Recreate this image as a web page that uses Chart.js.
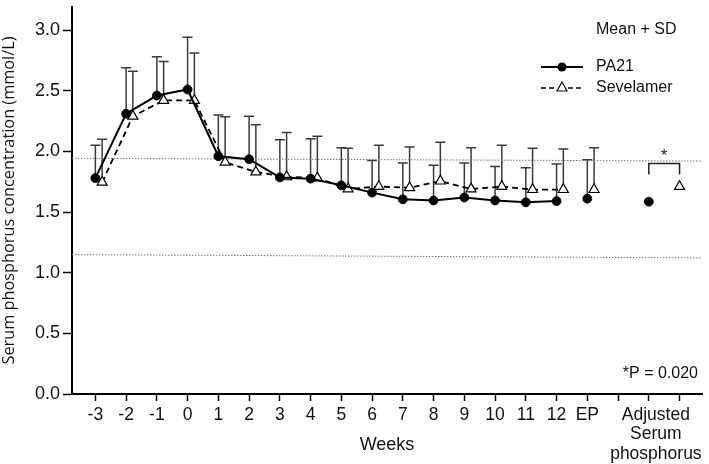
<!DOCTYPE html>
<html>
<head>
<meta charset="utf-8">
<script src="https://cdn.jsdelivr.net/npm/chart.js@4.4.1/dist/chart.umd.min.js"></script>
<style>
  html, body { margin: 0; padding: 0; background: #fff; }
  canvas { display: block; }
</style>
</head>
<body>
<canvas id="phosChart" width="709" height="464"></canvas>
<script>
// weeks -3..12 and EP
const weekLabels = ['-3', '-2', '-1', '0', '1', '2', '3', '4', '5', '6', '7', '8', '9', '10', '11', '12', 'EP'];
const pa21Mean = [1.78, 2.31, 2.46, 2.51, 1.96, 1.935, 1.785, 1.775, 1.72, 1.66, 1.605, 1.595, 1.62, 1.595, 1.58, 1.59, 1.61];
const pa21Sd   = [0.27, 0.38, 0.32, 0.43, 0.34, 0.355, 0.31, 0.33, 0.31, 0.265, 0.30, 0.29, 0.285, 0.28, 0.285, 0.305, 0.32];
const sevMean  = [1.745, 2.29, 2.42, 2.42, 1.91, 1.83, 1.79, 1.78, 1.69, 1.71, 1.70, 1.755, 1.69, 1.71, 1.685, 1.685, 1.685];
const sevSd    = [0.355, 0.37, 0.32, 0.39, 0.375, 0.39, 0.365, 0.345, 0.335, 0.34, 0.335, 0.32, 0.34, 0.34, 0.34, 0.335, 0.345];
const adjustedMean = [1.585, 1.71];   // PA21, Sevelamer
const refUpper = [1.943, 1.92];       // dotted line, left and right end
const refLower = [1.149, 1.122];
const yTicks = [0, 0.5, 1.0, 1.5, 2.0, 2.5, 3.0];
const adjustedLabel = ['Adjusted', 'Serum', 'phosphorus'];

const xMin = -0.76, xMax = 19.73;
const sevShift = 0.22;
const adjX = [18, 19];
const adjLabelPos = 18.23;
const FONT = "'Liberation Sans', Arial, sans-serif";

function buildSeries(means, shift, adjIdx) {
  const pts = [];
  for (let i = 0; i < 16; i++) pts.push({ x: i + shift, y: means[i] });
  pts.push({ x: 15.5 + shift, y: null });
  pts.push({ x: 16 + shift, y: means[16] });
  pts.push({ x: 17, y: null });
  pts.push({ x: adjX[adjIdx], y: adjustedMean[adjIdx] });
  return pts;
}

const errorBars = {
  id: 'errorBars',
  beforeDatasetsDraw(chart) {
    const { ctx, scales: { x, y } } = chart;
    ctx.save();
    ctx.strokeStyle = '#3a3a3a';
    ctx.lineWidth = 1.5;
    [[pa21Mean, pa21Sd, 0], [sevMean, sevSd, sevShift]].forEach(([m, sd, shift]) => {
      m.forEach((v, i) => {
        const px = x.getPixelForValue(i + shift);
        const y0 = y.getPixelForValue(v);
        const y1 = y.getPixelForValue(v + sd[i]);
        ctx.beginPath();
        ctx.moveTo(px, y0);
        ctx.lineTo(px, y1);
        ctx.moveTo(px - 5, y1);
        ctx.lineTo(px + 5, y1);
        ctx.stroke();
      });
    });
    ctx.restore();
  }
};

const annotations = {
  id: 'annotations',
  afterDraw(chart) {
    const { ctx, scales: { x, y } } = chart;
    ctx.save();
    // significance bracket
    const xa = x.getPixelForValue(adjX[0]), xb = x.getPixelForValue(adjX[1]);
    const yb = y.getPixelForValue(1.9), yt = y.getPixelForValue(1.81);
    ctx.strokeStyle = '#222';
    ctx.lineWidth = 1.5;
    ctx.beginPath();
    ctx.moveTo(xa, yt); ctx.lineTo(xa, yb); ctx.lineTo(xb, yb); ctx.lineTo(xb, yt);
    ctx.stroke();
    ctx.fillStyle = '#111';
    ctx.textAlign = 'center';
    ctx.textBaseline = 'middle';
    ctx.font = '16px ' + FONT;
    ctx.fillText('*', (xa + xb) / 2, y.getPixelForValue(1.955));

    // legend
    ctx.textAlign = 'left';
    ctx.font = '16px ' + FONT;
    ctx.fillText('Mean + SD', 596, 30);
    ctx.fillText('PA21', 596, 67);
    ctx.fillText('Sevelamer', 596, 88);
    ctx.strokeStyle = '#000';
    ctx.lineWidth = 2;
    ctx.beginPath(); ctx.moveTo(541, 67); ctx.lineTo(583, 67); ctx.stroke();
    ctx.beginPath(); ctx.arc(562, 67, 4.5, 0, Math.PI * 2); ctx.fillStyle = '#000'; ctx.fill();
    ctx.lineWidth = 1.6;
    ctx.setLineDash([5, 3]);
    ctx.beginPath(); ctx.moveTo(541, 88); ctx.lineTo(556, 88); ctx.moveTo(568, 88); ctx.lineTo(583, 88); ctx.stroke();
    ctx.setLineDash([]);
    ctx.lineWidth = 1.2;
    ctx.beginPath();
    ctx.moveTo(562, 82); ctx.lineTo(567, 91); ctx.lineTo(557, 91); ctx.closePath();
    ctx.fillStyle = '#fff'; ctx.fill(); ctx.stroke();

    // p value
    ctx.fillStyle = '#111';
    ctx.textAlign = 'right';
    ctx.font = '16px ' + FONT;
    ctx.fillText('*P = 0.020', 698, 374);
    ctx.restore();
  }
};

new Chart(document.getElementById('phosChart'), {
  type: 'line',
  data: {
    datasets: [
      {
        label: 'PA21',
        data: buildSeries(pa21Mean, 0, 0),
        borderColor: '#000',
        borderWidth: 2,
        pointStyle: 'circle',
        pointRadius: 4.4,
        pointBackgroundColor: '#000',
        pointBorderColor: '#000',
        pointBorderWidth: 1
      },
      {
        label: 'Sevelamer',
        data: buildSeries(sevMean, sevShift, 1),
        borderColor: '#000',
        borderWidth: 1.8,
        borderDash: [6, 4],
        pointStyle: 'triangle',
        pointRadius: 5.8,
        pointBackgroundColor: '#fff',
        pointBorderColor: '#000',
        pointBorderWidth: 1.2
      },
      {
        label: 'upper',
        data: [{ x: xMin, y: refUpper[0] }, { x: xMax, y: refUpper[1] }],
        borderColor: '#777',
        borderWidth: 1,
        borderDash: [1.5, 1.5],
        pointRadius: 0
      },
      {
        label: 'lower',
        data: [{ x: xMin, y: refLower[0] }, { x: xMax, y: refLower[1] }],
        borderColor: '#777',
        borderWidth: 1,
        borderDash: [1.5, 1.5],
        pointRadius: 0
      }
    ]
  },
  options: {
    responsive: false,
    animation: false,
    devicePixelRatio: 1,
    layout: { padding: { left: 0, top: 0, right: 2, bottom: 0 } },
    plugins: { legend: { display: false }, tooltip: { enabled: false } },
    scales: {
      x: {
        type: 'linear',
        min: xMin,
        max: xMax,
        afterBuildTicks(scale) {
          const t = [];
          for (let i = 0; i <= 19; i++) t.push({ value: i });
          t.splice(19, 0, { value: adjLabelPos });
          scale.ticks = t;
        },
        afterFit(scale) {
          scale.height = 70;
          scale.paddingLeft = 0;
          scale.paddingRight = 0;
        },
        grid: {
          drawOnChartArea: false,
          tickLength: 7,
          tickWidth: 1.5,
          tickColor: (c) => (c.tick && c.tick.value % 1 !== 0 ? 'rgba(0,0,0,0)' : '#000')
        },
        border: { display: true, color: '#000', width: 2 },
        ticks: {
          autoSkip: false,
          maxRotation: 0,
          padding: 5,
          color: '#111',
          font: { family: FONT, size: 17.5, lineHeight: 1.09 },
          callback: (v) => {
            if (Math.abs(v - adjLabelPos) < 0.01) return adjustedLabel;
            if (v % 1 === 0 && v <= 16) return weekLabels[v];
            return '';
          }
        },
        title: {
          display: true,
          text: 'Weeks',
          color: '#111',
          font: { family: FONT, size: 18 },
          padding: { top: 0, bottom: 8 }
        }
      },
      y: {
        min: 0,
        max: 3.19,
        afterBuildTicks(scale) {
          scale.ticks = yTicks.map(v => ({ value: v }));
        },
        afterFit(scale) {
          scale.width = 72;
          scale.paddingTop = 0;
          scale.paddingBottom = 0;
        },
        grid: {
          drawOnChartArea: false,
          tickLength: 9,
          tickWidth: 1.5,
          tickColor: '#000'
        },
        border: { display: true, color: '#000', width: 2 },
        ticks: {
          padding: 3,
          color: '#111',
          font: { family: FONT, size: 18 },
          callback: (v) => v.toFixed(1)
        },
        title: {
          display: true,
          text: 'Serum phosphorus concentration (mmol/L)',
          color: '#111',
          font: { family: "'Open Sans', sans-serif", size: 16.3 },
          padding: { top: 0, bottom: 0 }
        }
      }
    }
  },
  plugins: [errorBars, annotations]
});
</script>
</body>
</html>
